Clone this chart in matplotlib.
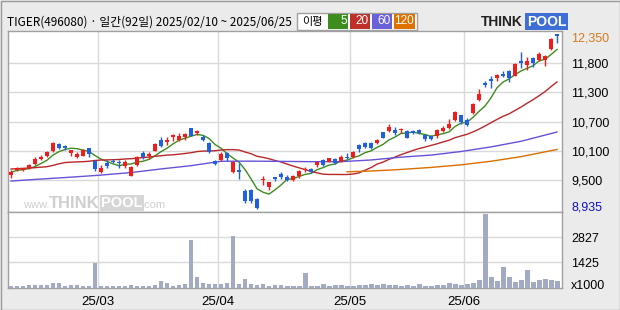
import matplotlib
matplotlib.use('Agg')
import matplotlib.pyplot as plt
from matplotlib.patches import Rectangle
import numpy as np
import pandas as pd

# daily candles, TIGER(496080), 2025/02/10 ~ 2025/06/25 (92 trading days)
opens = [9602, 9693, 9700, 9732, 9810, 9920, 9972, 10070, 10206, 10167,
         10031, 9960, 9979, 10122, 9881, 9667, 9830, 9881, 9849, 9784,
         9589, 9797, 10037, 9966, 10076, 10284, 10239, 10336, 10284, 10336,
         10512, 10414, 10336, 10220, 9881, 9894, 10037, 9653, 9699, 9296,
         9309, 9134, 9510, 9361, 9556, 9621, 9569, 9504, 9582, 9700,
         9719, 9797, 9894, 9862, 9914, 9862, 9960, 9946, 10187, 10219,
         10219, 10219, 10434, 10460, 10479, 10473, 10460, 10460, 10485, 10388,
         10356, 10356, 10453, 10518, 10680, 10765, 10674, 10810, 11058, 11389,
         11480, 11493, 11571, 11636, 11538, 11818, 11740, 11883, 11838, 11838,
         12058, 12350]
closes = [9654, 9732, 9732, 9797, 9914, 9960, 10050, 10232, 10135, 10122,
          10083, 10005, 10090, 10011, 9719, 9732, 9784, 9849, 9830, 9856,
          9765, 9960, 9946, 10005, 10206, 10174, 10284, 10375, 10362, 10401,
          10369, 10460, 10284, 10057, 9816, 10005, 9926, 9862, 9660, 9094,
          9101, 8952, 9525, 9472, 9517, 9569, 9504, 9589, 9686, 9719,
          9667, 9862, 9797, 9927, 9830, 9960, 9940, 10044, 10102, 10141,
          10135, 10284, 10330, 10545, 10414, 10492, 10330, 10414, 10420, 10304,
          10310, 10485, 10518, 10596, 10830, 10635, 10583, 10986, 11181, 11350,
          11441, 11558, 11538, 11493, 11766, 11798, 11818, 11785, 11968, 11928,
          12253, 12320]
highs = [9700, 9758, 9745, 9823, 9960, 9992, 10070, 10252, 10220, 10187,
         10096, 10057, 10109, 10135, 9894, 9797, 9894, 9914, 9894, 9901,
         9784, 9972, 10070, 10057, 10220, 10336, 10336, 10395, 10414, 10427,
         10525, 10479, 10382, 10252, 9894, 10057, 10057, 9881, 9829, 9322,
         9322, 9146, 9585, 9472, 9569, 9667, 9602, 9602, 9700, 9765,
         9745, 9875, 9914, 9940, 9927, 9992, 10024, 10070, 10200, 10239,
         10239, 10297, 10447, 10590, 10545, 10525, 10479, 10480, 10505, 10401,
         10375, 10499, 10550, 10700, 10843, 10778, 10713, 11005, 11279, 11428,
         11525, 11571, 11623, 11655, 11785, 12000, 11896, 11902, 11994, 11948,
         12270, 12350]
lows = [9550, 9680, 9687, 9719, 9797, 9894, 9960, 10057, 10109, 10090,
        9979, 9927, 9972, 9960, 9680, 9635, 9732, 9830, 9745, 9745,
        9589, 9784, 9920, 9914, 10070, 10154, 10187, 10265, 10271, 10284,
        10356, 10382, 10271, 10037, 9790, 9881, 9881, 9634, 9524, 9049,
        9062, 8935, 9415, 9310, 9491, 9524, 9485, 9491, 9550, 9654,
        9634, 9765, 9777, 9849, 9810, 9849, 9914, 9927, 10044, 10135,
        10109, 10200, 10317, 10434, 10382, 10414, 10317, 10395, 10405, 10258,
        10290, 10323, 10440, 10499, 10661, 10596, 10550, 10791, 11038, 11318,
        11298, 11428, 11506, 11409, 11525, 11688, 11655, 11701, 11818, 11720,
        12040, 12175]
# volume, x1000
volumes = [120, 120, 120, 176, 176, 176, 176, 287, 287, 139,
           176, 176, 139, 139, 1415, 120, 120, 120, 120, 120,
           176, 120, 120, 120, 176, 398, 287, 139, 176, 231,
           2673, 620, 287, 231, 231, 231, 287, 2895, 231, 509,
           231, 176, 231, 120, 176, 176, 120, 120, 120, 842,
           120, 120, 231, 120, 176, 176, 120, 120, 176, 176,
           231, 176, 231, 176, 176, 139, 176, 120, 231, 120,
           120, 176, 176, 287, 231, 176, 231, 287, 453, 4116,
           620, 398, 1175, 620, 342, 453, 1008, 342, 453, 509,
           453, 416]

# moving averages that need days before the window
ma20_head = [9719, 9725, 9732, 9738, 9745, 9755, 9764, 9790, 9820, 9845,
             9852, 9858, 9862, 9870, 9885, 9894, 9897, 9900, 9905]
ma60_idx = [0, 5, 10, 15, 20, 25, 30, 35, 40, 45, 50, 55, 60, 65, 70, 75, 80, 85, 91]
ma60_val = [9484, 9523, 9560, 9600, 9650, 9720, 9784, 9870, 9872, 9868,
            9862, 9862, 9895, 9950, 9990, 10060, 10150, 10260, 10440]
ma120_idx = [56, 60, 65, 70, 75, 80, 85, 91]
ma120_val = [9665, 9680, 9710, 9750, 9800, 9870, 9960, 10100]

month_start = [15, 35, 57, 76]
month_labels = ['25/03', '25/04', '25/05', '25/06']
price_grid_labels = ['9,500', '10,100', '10,700', '11,300', '11,800']
vol_ticks = [1425, 2827]

RED = '#f01c1c'
BLUE = '#1f5fe0'
C5, C20, C60, C120 = '#3c8c1e', '#b8282a', '#6652d8', '#d86e00'
GRID = '#d9d9d9'
EDGE = '#a0a0a0'

plt.rcParams['font.family'] = ['Liberation Sans', 'DejaVu Sans']

W, H = 620, 310
fig = plt.figure(figsize=(6.2, 3.1), dpi=100, facecolor='#ebebeb')

def fx(v):
    return v / W

def fy(v):
    return 1 - v / H

ax = fig.add_axes([fx(8), fy(212.3), fx(562) - fx(8), fy(31) - fy(212.3)])
axv = fig.add_axes([fx(8), fy(288), fx(562) - fx(8), fy(212.3) - fy(288)], sharex=ax)

o = np.array(opens, float)
c = np.array(closes, float)
hi = np.array(highs, float)
lo = np.array(lows, float)
x = np.arange(len(c))
col = np.where(c >= o, RED, BLUE)

# candles
ax.vlines(x, lo, hi, colors=col, lw=1, zorder=3)
h = np.abs(c - o)
mid = (o + c) / 2
h = np.maximum(h, 25)
ax.bar(x, h, bottom=mid - h / 2, width=0.75, color=col, linewidth=0, zorder=4)

# moving averages
s = pd.Series(c)
ma5 = s.rolling(5, min_periods=1).mean()
ma20 = s.rolling(20).mean()
ma20.iloc[:len(ma20_head)] = ma20_head
ax.plot(x, ma5, color=C5, lw=1, zorder=2)
ax.plot(x, ma20, color=C20, lw=1, zorder=2)
ax.plot(ma60_idx, ma60_val, color=C60, lw=1, zorder=2)
ax.plot(ma120_idx, ma120_val, color=C120, lw=1, zorder=2)

pmin, pmax = 8935, 12350
step = (pmax - pmin) / 6
ax.set_ylim(pmin - step * 3.1 / 29.2, pmax + step * 3.1 / 29.2)
ax.set_xlim(-0.5, 91.83)
grid_vals = [pmin + step * k for k in range(1, 6)]
ax.set_yticks(grid_vals)
ax.set_yticklabels(price_grid_labels)
ax.yaxis.tick_right()
ax.tick_params(axis='y', length=0, pad=6.5, labelsize=9)
ax.set_xticks([m - 0.5 for m in month_start])
ax.tick_params(axis='x', length=0, labelbottom=False)
ax.grid(True, color=GRID, lw=1)
ax.set_axisbelow(True)
ax.annotate('12,350', xy=(1, pmax), xycoords=('axes fraction', 'data'),
            xytext=(6.5, -2.9), textcoords='offset points', va='center',
            fontsize=9, color='#d87a1e')
ax.annotate('8,935', xy=(1, pmin), xycoords=('axes fraction', 'data'),
            xytext=(6.5, 1.5), textcoords='offset points', va='center',
            fontsize=9, color='#1010d0')

# volume
axv.bar(x, volumes, width=0.83, color='#a3aac3', linewidth=0, zorder=3)
axv.set_ylim(0, 4213)
axv.set_yticks(vol_ticks)
axv.set_yticklabels([str(v) for v in vol_ticks])
axv.yaxis.tick_right()
axv.tick_params(axis='y', length=0, pad=6.5, labelsize=9)
axv.set_xticks([m - 0.5 for m in month_start])
axv.set_xticklabels(month_labels)
axv.tick_params(axis='x', length=0, pad=6, labelsize=9.5)
axv.grid(True, color=GRID, lw=1)
axv.set_axisbelow(True)
axv.annotate('x1000', xy=(1, 0), xycoords=('axes fraction', 'data'),
             xytext=(6.5, 1.5), textcoords='offset points', va='center', fontsize=9)

for a in (ax, axv):
    for sp in a.spines.values():
        sp.set_color(EDGE)
        sp.set_linewidth(1)

# watermark
wm = dict(color='#cfcfcf', va='center', zorder=1, transform=fig.transFigure)
fig.text(fx(23), fy(205), 'www.', fontsize=8, **wm)
fig.text(fx(49), fy(203), 'THINK', fontsize=12, fontweight='bold', **wm)
fig.text(fx(101), fy(203), 'POOL', fontsize=10.5, fontweight='bold',
         color='white', va='center', zorder=1, transform=fig.transFigure,
         bbox=dict(boxstyle='square,pad=0.08', fc='#d6d6d6', ec='none'))
fig.text(fx(141), fy(205), '.com', fontsize=8, **wm)

# header
fig.text(fx(7), fy(22), 'TIGER(496080) · 일간(92일) 2025/02/10 ~ 2025/06/25',
         fontsize=8.5, family=['Noto Sans CJK KR', 'DejaVu Sans'], va='center')
fig.patches.append(Rectangle((fx(297), fy(30)), fx(120), 17 / H, transform=fig.transFigure,
                             fc='white', ec='#a0a0a0', lw=1))
fig.text(fx(302), fy(21.5), '이평', fontsize=8, family=['Noto Sans CJK KR'], va='center')
for x0, w, cc, lab in [(328, 20, C5, '5'), (350, 20, '#c0302a', '20'),
                       (372, 20, '#6a60d8', '60'), (394, 21, '#e07000', '120')]:
    fig.patches.append(Rectangle((fx(x0), fy(29)), fx(w), 15 / H, transform=fig.transFigure,
                                 fc=cc, ec='none'))
    fig.text(fx(x0 + w - 1), fy(21.5), lab, fontsize=8.5, color='white', ha='right', va='center')

# logo
fig.text(fx(481), fy(21.5), 'THINK', fontsize=10, fontweight='bold',
         va='center', color='#222222')
fig.text(fx(527), fy(21.5), 'POOL', fontsize=10, fontweight='bold',
         va='center', color='white',
         bbox=dict(boxstyle='square,pad=0.12', fc='#3d6fd6', ec='none'))

# outer frame
fig.patches.append(Rectangle((0.5 / W, 0.5 / H), 1 - 1 / W, 1 - 1 / H, transform=fig.transFigure,
                             fc='none', ec='#9a9a9a', lw=1))

fig.savefig('out.png', dpi=100, facecolor=fig.get_facecolor())
